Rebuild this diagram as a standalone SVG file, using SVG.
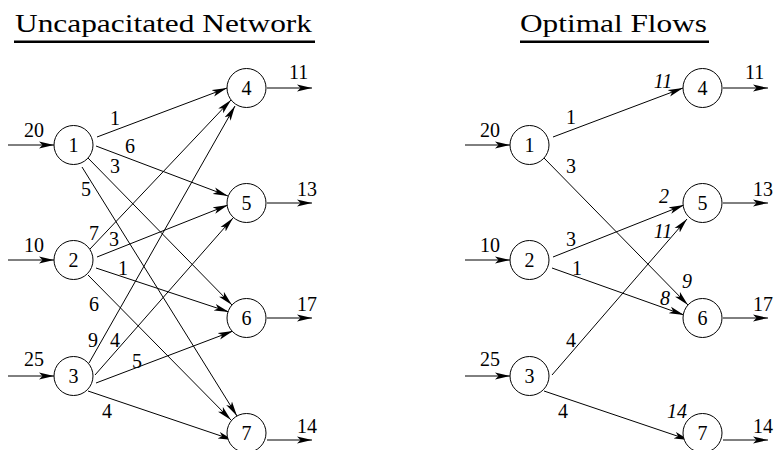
<svg xmlns="http://www.w3.org/2000/svg" width="775" height="450" viewBox="0 0 775 450">
<style>
.t{font-family:"Liberation Serif","Times New Roman",serif;font-size:20px;fill:#000}
.c{text-anchor:middle}
.i{font-style:italic}
.ttl{font-family:"Liberation Serif","Times New Roman",serif;font-size:26px;fill:#000}
.e{stroke:#000;stroke-width:1;fill:none;marker-end:url(#ah)}
.n circle{fill:#fff;stroke:#000;stroke-width:1}
</style>
<defs>
<marker id="ah" markerUnits="userSpaceOnUse" viewBox="0 0 15 8" refX="15" refY="4" markerWidth="15" markerHeight="8" orient="auto"><path d="M0,0.6 L15,4 L0,7.4 L3.5,4 Z" fill="#000"/></marker>
</defs>
<rect width="775" height="450" fill="#fff"/>
<g id="titles">
<text class="ttl" x="15" y="32" textLength="297" lengthAdjust="spacingAndGlyphs">Uncapacitated Network</text>
<rect x="14" y="40.5" width="301" height="2.5" fill="#000"/>
<text class="ttl" x="520" y="32" textLength="187" lengthAdjust="spacingAndGlyphs">Optimal Flows</text>
<rect x="520" y="40.5" width="189" height="2.5" fill="#000"/>
</g>
<g id="connectors">
<!-- left inputs -->
<line class="e" x1="8" y1="145" x2="54" y2="145"/>
<line class="e" x1="8" y1="260" x2="54" y2="260"/>
<line class="e" x1="8" y1="376" x2="54" y2="376"/>
<!-- left outputs -->
<line class="e" x1="267" y1="88" x2="312" y2="88"/>
<line class="e" x1="267" y1="203" x2="312" y2="203"/>
<line class="e" x1="267" y1="318" x2="312" y2="318"/>
<line class="e" x1="267" y1="440" x2="312" y2="440"/>
<!-- left edges -->
<line class="e" x1="97" y1="137" x2="227" y2="88"/>
<line class="e" x1="96" y1="146" x2="228" y2="196"/>
<line class="e" x1="88" y1="158" x2="232" y2="305"/>
<line class="e" x1="82" y1="167" x2="237" y2="416"/>
<line class="e" x1="90" y1="249" x2="231" y2="100"/>
<line class="e" x1="97" y1="257" x2="228" y2="205"/>
<line class="e" x1="96" y1="268" x2="229" y2="312"/>
<line class="e" x1="88" y1="275" x2="231" y2="420"/>
<line class="e" x1="89" y1="363" x2="235" y2="106"/>
<line class="e" x1="95" y1="375" x2="233" y2="218"/>
<line class="e" x1="96" y1="383" x2="233" y2="331"/>
<line class="e" x1="88" y1="391" x2="233" y2="440"/>
<!-- right inputs -->
<line class="e" x1="465" y1="145" x2="510" y2="145"/>
<line class="e" x1="465" y1="260" x2="510" y2="260"/>
<line class="e" x1="465" y1="376" x2="510" y2="376"/>
<!-- right outputs -->
<line class="e" x1="723" y1="88" x2="768" y2="88"/>
<line class="e" x1="723" y1="203" x2="768" y2="203"/>
<line class="e" x1="723" y1="318" x2="768" y2="318"/>
<line class="e" x1="723" y1="440" x2="768" y2="440"/>
<!-- right edges -->
<line class="e" x1="553" y1="137" x2="683" y2="88"/>
<line class="e" x1="544" y1="158" x2="688" y2="305"/>
<line class="e" x1="553" y1="257" x2="684" y2="205"/>
<line class="e" x1="552" y1="268" x2="684" y2="315"/>
<line class="e" x1="552" y1="375" x2="687" y2="219"/>
<line class="e" x1="544" y1="391" x2="689" y2="440"/>
</g>
<g id="flow-labels">
<text class="t c" x="34" y="137">20</text>
<text class="t c" x="34" y="252">10</text>
<text class="t c" x="34" y="366">25</text>
<text class="t" x="289" y="79">11</text>
<text class="t" x="297" y="196">13</text>
<text class="t" x="297" y="311">17</text>
<text class="t" x="297" y="433">14</text>
<text class="t c" x="490" y="137">20</text>
<text class="t c" x="490" y="252">10</text>
<text class="t c" x="490" y="366">25</text>
<text class="t" x="745" y="79">11</text>
<text class="t" x="753" y="196">13</text>
<text class="t" x="753" y="311">17</text>
<text class="t" x="753" y="433">14</text>
</g>
<g id="edge-labels">
<text class="t c" x="115" y="125">1</text>
<text class="t c" x="130" y="153">6</text>
<text class="t c" x="115" y="173">3</text>
<text class="t c" x="86" y="196">5</text>
<text class="t c" x="94" y="240">7</text>
<text class="t c" x="114" y="246">3</text>
<text class="t c" x="123" y="275">1</text>
<text class="t c" x="94" y="311">6</text>
<text class="t c" x="93" y="347">9</text>
<text class="t c" x="115" y="347">4</text>
<text class="t c" x="137" y="368">5</text>
<text class="t c" x="107" y="418">4</text>
<text class="t c" x="571" y="124">1</text>
<text class="t c" x="571" y="173">3</text>
<text class="t c" x="571" y="246">3</text>
<text class="t c" x="577" y="275">1</text>
<text class="t c" x="571" y="347">4</text>
<text class="t c" x="563" y="418">4</text>
<text class="t c i" x="663" y="88">11</text>
<text class="t c i" x="664" y="203">2</text>
<text class="t c i" x="663" y="238">11</text>
<text class="t c i" x="687" y="288">9</text>
<text class="t c i" x="665" y="305">8</text>
<text class="t c i" x="677" y="418">14</text>
</g>
<g id="node-L1" class="n"><circle cx="73.5" cy="145" r="19.5"/><text class="t c" x="73.5" y="152">1</text></g>
<g id="node-L2" class="n"><circle cx="73.5" cy="260" r="19.5"/><text class="t c" x="73.5" y="267">2</text></g>
<g id="node-L3" class="n"><circle cx="73.5" cy="376" r="19.5"/><text class="t c" x="73.5" y="383">3</text></g>
<g id="node-L4" class="n"><circle cx="246.5" cy="88" r="19.5"/><text class="t c" x="246.5" y="95">4</text></g>
<g id="node-L5" class="n"><circle cx="246.5" cy="203" r="19.5"/><text class="t c" x="246.5" y="210">5</text></g>
<g id="node-L6" class="n"><circle cx="246.5" cy="318" r="19.5"/><text class="t c" x="246.5" y="325">6</text></g>
<g id="node-L7" class="n"><circle cx="246.5" cy="433" r="19.5"/><text class="t c" x="246.5" y="440">7</text></g>
<g id="node-R1" class="n"><circle cx="529.5" cy="145" r="19.5"/><text class="t c" x="529.5" y="152">1</text></g>
<g id="node-R2" class="n"><circle cx="529.5" cy="260" r="19.5"/><text class="t c" x="529.5" y="267">2</text></g>
<g id="node-R3" class="n"><circle cx="529.5" cy="376" r="19.5"/><text class="t c" x="529.5" y="383">3</text></g>
<g id="node-R4" class="n"><circle cx="702.5" cy="88" r="19.5"/><text class="t c" x="702.5" y="95">4</text></g>
<g id="node-R5" class="n"><circle cx="702.5" cy="203" r="19.5"/><text class="t c" x="702.5" y="210">5</text></g>
<g id="node-R6" class="n"><circle cx="702.5" cy="318" r="19.5"/><text class="t c" x="702.5" y="325">6</text></g>
<g id="node-R7" class="n"><circle cx="702.5" cy="433" r="19.5"/><text class="t c" x="702.5" y="440">7</text></g>
</svg>
